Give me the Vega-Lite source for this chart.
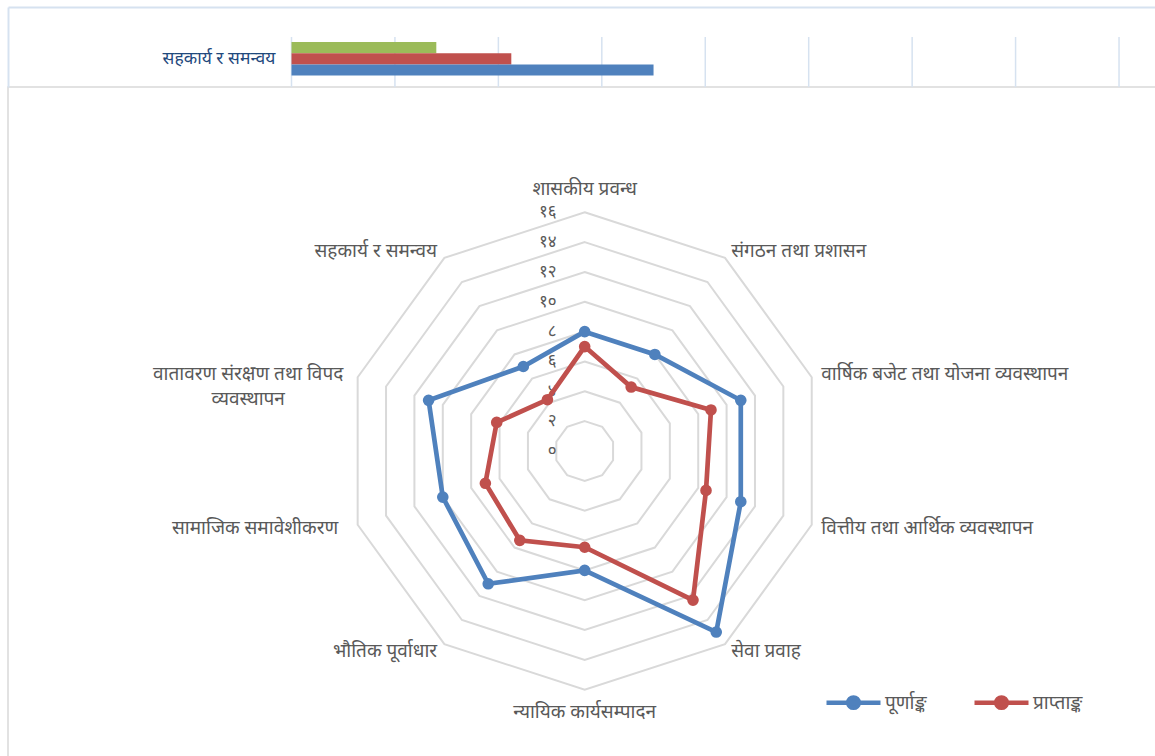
{
  "$schema": "https://vega.github.io/schema/vega-lite/v6.json",
  "autosize": "none",
  "width": 1148,
  "height": 670,
  "padding": {"left": 8, "top": 87, "right": 0, "bottom": 0},
  "background": "white",
  "config": {
    "view": {"stroke": "#d9d9d9", "strokeWidth": 1.5},
    "font": "Noto Sans"
  },
  "datasets": {
    "radar": [
      {"k": 0, "cat": "शासकीय प्रवन्ध", "series": "पूर्णाङ्क", "value": 8},
      {"k": 1, "cat": "संगठन तथा प्रशासन", "series": "पूर्णाङ्क", "value": 8},
      {"k": 2, "cat": "वार्षिक बजेट तथा योजना व्यवस्थापन", "series": "पूर्णाङ्क", "value": 11},
      {"k": 3, "cat": "वित्तीय तथा आर्थिक व्यवस्थापन", "series": "पूर्णाङ्क", "value": 11},
      {"k": 4, "cat": "सेवा प्रवाह", "series": "पूर्णाङ्क", "value": 15},
      {"k": 5, "cat": "न्यायिक कार्यसम्पादन", "series": "पूर्णाङ्क", "value": 8},
      {"k": 6, "cat": "भौतिक पूर्वाधार", "series": "पूर्णाङ्क", "value": 11},
      {"k": 7, "cat": "सामाजिक समावेशीकरण", "series": "पूर्णाङ्क", "value": 10},
      {"k": 8, "cat": "वातावरण संरक्षण तथा विपद व्यवस्थापन", "series": "पूर्णाङ्क", "value": 11},
      {"k": 9, "cat": "सहकार्य र समन्वय", "series": "पूर्णाङ्क", "value": 7},
      {"k": 0, "cat": "शासकीय प्रवन्ध", "series": "प्राप्ताङ्क", "value": 7},
      {"k": 1, "cat": "संगठन तथा प्रशासन", "series": "प्राप्ताङ्क", "value": 5.3},
      {"k": 2, "cat": "वार्षिक बजेट तथा योजना व्यवस्थापन", "series": "प्राप्ताङ्क", "value": 8.9},
      {"k": 3, "cat": "वित्तीय तथा आर्थिक व्यवस्थापन", "series": "प्राप्ताङ्क", "value": 8.55},
      {"k": 4, "cat": "सेवा प्रवाह", "series": "प्राप्ताङ्क", "value": 12.35},
      {"k": 5, "cat": "न्यायिक कार्यसम्पादन", "series": "प्राप्ताङ्क", "value": 6.45},
      {"k": 6, "cat": "भौतिक पूर्वाधार", "series": "प्राप्ताङ्क", "value": 7.4},
      {"k": 7, "cat": "सामाजिक समावेशीकरण", "series": "प्राप्ताङ्क", "value": 7},
      {"k": 8, "cat": "वातावरण संरक्षण तथा विपद व्यवस्थापन", "series": "प्राप्ताङ्क", "value": 6.2},
      {"k": 9, "cat": "सहकार्य र समन्वय", "series": "प्राप्ताङ्क", "value": 4.25}
    ],
    "rings": [
      {"level": 2, "k": [0, 1, 2, 3, 4, 5, 6, 7, 8, 9]},
      {"level": 4, "k": [0, 1, 2, 3, 4, 5, 6, 7, 8, 9]},
      {"level": 6, "k": [0, 1, 2, 3, 4, 5, 6, 7, 8, 9]},
      {"level": 8, "k": [0, 1, 2, 3, 4, 5, 6, 7, 8, 9]},
      {"level": 10, "k": [0, 1, 2, 3, 4, 5, 6, 7, 8, 9]},
      {"level": 12, "k": [0, 1, 2, 3, 4, 5, 6, 7, 8, 9]},
      {"level": 14, "k": [0, 1, 2, 3, 4, 5, 6, 7, 8, 9]},
      {"level": 16, "k": [0, 1, 2, 3, 4, 5, 6, 7, 8, 9]}
    ],
    "vlabels": [
      {"v": 0, "t": "०"}, {"v": 2, "t": "२"}, {"v": 4, "t": "४"}, {"v": 6, "t": "६"},
      {"v": 8, "t": "८"}, {"v": 10, "t": "१०"}, {"v": 12, "t": "१२"}, {"v": 14, "t": "१४"}, {"v": 16, "t": "१६"}
    ],
    "topbars": [
      {"cat": "सहकार्य र समन्वय", "s": "अन्य", "v": 2.8},
      {"cat": "सहकार्य र समन्वय", "s": "प्राप्ताङ्क", "v": 4.25},
      {"cat": "सहकार्य र समन्वय", "s": "पूर्णाङ्क", "v": 7}
    ],
    "topgrid": [
      {"cat": "सहकार्य र समन्वय", "g": 0}, {"cat": "सहकार्य र समन्वय", "g": 2},
      {"cat": "सहकार्य र समन्वय", "g": 4}, {"cat": "सहकार्य र समन्वय", "g": 6},
      {"cat": "सहकार्य र समन्वय", "g": 8}, {"cat": "सहकार्य र समन्वय", "g": 10},
      {"cat": "सहकार्य र समन्वय", "g": 12}, {"cat": "सहकार्य र समन्वय", "g": 14},
      {"cat": "सहकार्य र समन्वय", "g": 16}
    ]
  },
  "layer": [
    {
      "layer": [
        {
          "data": {"name": "topgrid"},
          "mark": {"type": "tick", "size": 50, "thickness": 1.5, "color": "#d6e2f0", "opacity": 1},
          "encoding": {
            "x": {"field": "g", "type": "quantitative", "scale": {"domain": [-5.4814, 16.715], "nice": false, "zero": false}},
            "y": {"field": "cat", "type": "nominal", "scale": {"domain": ["सहकार्य र समन्वय"], "range": [-80, 0], "paddingInner": 0, "paddingOuter": 0.3, "align": 1}}
          }
        },
        {
          "data": {"name": "topbars"},
          "mark": {"type": "bar"},
          "encoding": {
            "x": {
              "field": "v", "type": "quantitative",
              "axis": {"orient": "top", "offset": 80, "domainColor": "#d6e2f0", "domainWidth": 2, "labels": false, "ticks": false, "grid": false, "title": null}
            },
            "y": {
              "field": "cat", "type": "nominal",
              "axis": {"orient": "left", "offset": 0, "domainColor": "#d6e2f0", "domainWidth": 2, "ticks": false, "tickSize": 0, "grid": false, "title": null, "labelPadding": -267, "labelAlign": "right", "labelBaseline": "middle", "labelOffset": -3, "labelColor": "#1f497d", "labelFontSize": 17.5, "labelFont": "Noto Sans", "labelBound": false, "labelOverlap": false, "labelLimit": 400}
            },
            "yOffset": {"field": "s", "type": "nominal", "scale": {"domain": ["अन्य", "प्राप्ताङ्क", "पूर्णाङ्क"], "paddingInner": 0, "paddingOuter": 0.732, "align": 0.305}},
            "color": {
              "condition": [
                {"test": "datum.s === 'अन्य'", "value": "#9bbb59"},
                {"test": "datum.s === 'प्राप्ताङ्क'", "value": "#c0504d"}
              ],
              "value": "#4f81bd"
            }
          }
        }
      ]
    },
    {
      "layer": [
        {
          "data": {"name": "rings"},
          "transform": [
            {"flatten": ["k"]},
            {"calculate": "datum.level*sin(datum.k*PI/5)", "as": "px"},
            {"calculate": "datum.level*cos(datum.k*PI/5)", "as": "py"}
          ],
          "mark": {"type": "line", "interpolate": "linear-closed", "stroke": "#d9d9d9", "strokeWidth": 2},
          "encoding": {
            "x": {"field": "px", "type": "quantitative", "scale": {"domain": [-38.652, 38.291], "nice": false, "zero": false}, "axis": null},
            "y": {"field": "py", "type": "quantitative", "scale": {"domain": [-20.509, 24.397], "nice": false, "zero": false}, "axis": null},
            "detail": {"field": "level", "type": "nominal"},
            "order": {"field": "k", "type": "quantitative"}
          }
        },
        {
          "data": {"name": "vlabels"},
          "mark": {"type": "text", "align": "right", "baseline": "middle", "dx": -28, "fontSize": 17, "color": "#595959"},
          "encoding": {
            "x": {"datum": 0, "type": "quantitative", "axis": null},
            "y": {"field": "v", "type": "quantitative", "axis": null},
            "text": {"field": "t", "type": "nominal"}
          }
        },
        {
          "data": {"name": "radar"},
          "transform": [
            {"calculate": "datum.value*sin(datum.k*PI/5)", "as": "px"},
            {"calculate": "datum.value*cos(datum.k*PI/5)", "as": "py"}
          ],
          "mark": {"type": "line", "interpolate": "linear-closed", "strokeWidth": 4.7},
          "encoding": {
            "x": {"field": "px", "type": "quantitative", "axis": null},
            "y": {"field": "py", "type": "quantitative", "axis": null},
            "color": {
              "field": "series", "type": "nominal",
              "scale": {"domain": ["पूर्णाङ्क", "प्राप्ताङ्क"], "range": ["#4f81bd", "#c0504d"]},
              "legend": {"orient": "none", "legendX": 816, "legendY": 586, "direction": "horizontal", "title": null, "symbolType": "M-1,0H1M-0.194,0A0.194,0.194,0,1,1,0.194,0A0.194,0.194,0,1,1,-0.194,0Z", "symbolSize": 2916, "symbolStrokeWidth": 4.5, "labelFontSize": 19, "labelColor": "#595959", "labelOffset": 2, "columnPadding": 38, "labelFont": "Noto Sans", "encode": {"symbols": {"update": {"stroke": {"scale": "color", "field": "value"}, "fill": {"scale": "color", "field": "value"}, "strokeWidth": {"value": 4.5}}}}}
            },
            "detail": {"field": "series", "type": "nominal"},
            "order": {"field": "k", "type": "quantitative"}
          }
        },
        {
          "data": {"name": "radar"},
          "transform": [
            {"calculate": "datum.value*sin(datum.k*PI/5)", "as": "px"},
            {"calculate": "datum.value*cos(datum.k*PI/5)", "as": "py"}
          ],
          "mark": {"type": "point", "filled": true, "size": 135, "opacity": 1},
          "encoding": {
            "x": {"field": "px", "type": "quantitative", "axis": null},
            "y": {"field": "py", "type": "quantitative", "axis": null},
            "color": {
              "field": "series", "type": "nominal",
              "scale": {"domain": ["पूर्णाङ्क", "प्राप्ताङ्क"], "range": ["#4f81bd", "#c0504d"]},
              "legend": {"orient": "none", "legendX": 816, "legendY": 586, "direction": "horizontal", "title": null, "symbolType": "M-1,0H1M-0.194,0A0.194,0.194,0,1,1,0.194,0A0.194,0.194,0,1,1,-0.194,0Z", "symbolSize": 2916, "symbolStrokeWidth": 4.5, "labelFontSize": 19, "labelColor": "#595959", "labelOffset": 2, "columnPadding": 38, "labelFont": "Noto Sans", "encode": {"symbols": {"update": {"stroke": {"scale": "color", "field": "value"}, "fill": {"scale": "color", "field": "value"}, "strokeWidth": {"value": 4.5}}}}}
            }
          }
        },
        {
          "data": {"name": "radar"},
          "transform": [
            {"filter": "datum.series === 'पूर्णाङ्क' && datum.k >= 1 && datum.k <= 4"},
            {"calculate": "16.6*sin(datum.k*PI/5)", "as": "lx"},
            {"calculate": "16.6*cos(datum.k*PI/5)", "as": "ly"}
          ],
          "mark": {"type": "text", "align": "left", "baseline": "middle", "dx": 1, "fontSize": 19, "color": "#595959"},
          "encoding": {
            "x": {"field": "lx", "type": "quantitative", "axis": null},
            "y": {"field": "ly", "type": "quantitative", "axis": null},
            "text": {"field": "cat", "type": "nominal"}
          }
        },
        {
          "data": {"name": "radar"},
          "transform": [
            {"filter": "datum.series === 'पूर्णाङ्क' && (datum.k === 6 || datum.k === 9)"},
            {"calculate": "16.6*sin(datum.k*PI/5)", "as": "lx"},
            {"calculate": "16.6*cos(datum.k*PI/5)", "as": "ly"}
          ],
          "mark": {"type": "text", "align": "right", "baseline": "middle", "dx": -2, "fontSize": 19, "color": "#595959"},
          "encoding": {
            "x": {"field": "lx", "type": "quantitative", "axis": null},
            "y": {"field": "ly", "type": "quantitative", "axis": null},
            "text": {"field": "cat", "type": "nominal"}
          }
        },
        {
          "data": {"name": "radar"},
          "transform": [
            {"filter": "datum.series === 'पूर्णाङ्क' && datum.k === 7"},
            {"calculate": "16.6*sin(datum.k*PI/5)", "as": "lx"},
            {"calculate": "16.6*cos(datum.k*PI/5)", "as": "ly"}
          ],
          "mark": {"type": "text", "align": "right", "baseline": "middle", "dx": -11, "fontSize": 19, "color": "#595959"},
          "encoding": {
            "x": {"field": "lx", "type": "quantitative", "axis": null},
            "y": {"field": "ly", "type": "quantitative", "axis": null},
            "text": {"field": "cat", "type": "nominal"}
          }
        },
        {
          "data": {"name": "radar"},
          "transform": [
            {"filter": "datum.series === 'पूर्णाङ्क' && datum.k === 8"},
            {"calculate": "16.6*sin(datum.k*PI/5)", "as": "lx"},
            {"calculate": "16.6*cos(datum.k*PI/5)", "as": "ly"},
            {"calculate": "replace(datum.cat, 'विपद ', 'विपद|')", "as": "lab"}
          ],
          "mark": {"type": "text", "align": "center", "baseline": "middle", "dx": -101, "fontSize": 19, "lineBreak": "|", "lineHeight": 25, "color": "#595959"},
          "encoding": {
            "x": {"field": "lx", "type": "quantitative", "axis": null},
            "y": {"field": "ly", "type": "quantitative", "axis": null},
            "text": {"field": "lab", "type": "nominal"}
          }
        },
        {
          "data": {"name": "radar"},
          "transform": [
            {"filter": "datum.series === 'पूर्णाङ्क' && datum.k === 0"},
            {"calculate": "16.6*sin(datum.k*PI/5)", "as": "lx"},
            {"calculate": "16.6*cos(datum.k*PI/5)", "as": "ly"}
          ],
          "mark": {"type": "text", "align": "center", "baseline": "middle", "dy": -14, "fontSize": 19, "color": "#595959"},
          "encoding": {
            "x": {"field": "lx", "type": "quantitative", "axis": null},
            "y": {"field": "ly", "type": "quantitative", "axis": null},
            "text": {"field": "cat", "type": "nominal"}
          }
        },
        {
          "data": {"name": "radar"},
          "transform": [
            {"filter": "datum.series === 'पूर्णाङ्क' && datum.k === 5"},
            {"calculate": "16.6*sin(datum.k*PI/5)", "as": "lx"},
            {"calculate": "16.6*cos(datum.k*PI/5)", "as": "ly"}
          ],
          "mark": {"type": "text", "align": "center", "baseline": "middle", "dy": 13, "fontSize": 19, "color": "#595959"},
          "encoding": {
            "x": {"field": "lx", "type": "quantitative", "axis": null},
            "y": {"field": "ly", "type": "quantitative", "axis": null},
            "text": {"field": "cat", "type": "nominal"}
          }
        }
      ]
    }
  ],
  "resolve": {"scale": {"x": "independent", "y": "independent"}}
}
